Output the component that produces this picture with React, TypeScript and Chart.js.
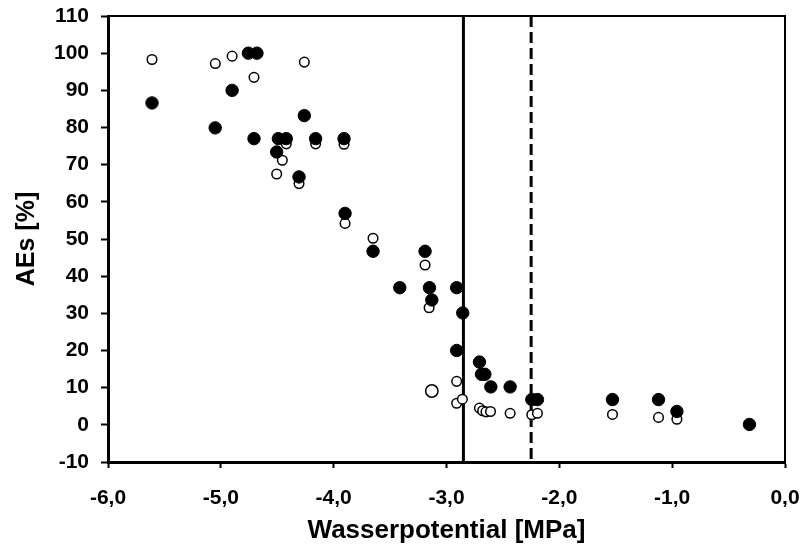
import React, { useEffect, useRef } from "react";
import { Chart, registerables } from "chart.js";

Chart.register(...registerables);

// Filled circles (series 1)
const filledX = [
  -5.61, -5.05, -4.9, -4.756, -4.68, -4.706, -4.49, -4.42, -4.505, -4.307, -4.26,
  -4.16, -3.908, -3.899, -3.651, -3.414, -3.19, -3.151, -3.13, -2.91, -2.856, -2.91,
  -2.708, -2.69, -2.66, -2.607, -2.436, -2.244, -2.194, -1.529, -1.121, -0.958, -0.315,
];
const filledY = [
  86.6, 79.9, 90.0, 100, 100, 77.0, 77.0, 77.0, 73.4, 66.7, 83.2,
  77.0, 77.0, 56.9, 46.7, 36.9, 46.7, 36.9, 33.6, 36.9, 30.1, 20.0,
  16.9, 13.6, 13.6, 10.2, 10.2, 6.8, 6.8, 6.8, 6.8, 3.6, 0.1,
];

// Open circles (series 2)
const openX = [
  -5.61, -5.049, -4.9, -4.706, -4.26, -4.42, -4.455, -4.505, -4.307, -4.16, -3.908,
  -3.899, -3.651, -3.19, -3.154, -3.13, -2.91, -2.91, -2.859, -2.708, -2.68, -2.65,
  -2.61, -2.436, -2.244, -2.194, -1.529, -1.121, -0.958,
];
const openY = [
  98.3, 97.2, 99.2, 93.5, 97.6, 75.6, 71.2, 67.5, 64.9, 75.6, 75.5,
  54.2, 50.2, 43.0, 31.5, 9.1, 11.7, 5.8, 6.9, 4.5, 3.8, 3.5,
  3.6, 3.1, 2.7, 3.1, 2.8, 2.0, 1.5,
];
const openLarge = [false, false, false, false, false, false, false, false, false, false, false,
  false, false, false, false, true, false, false, false, false, false, false,
  false, false, false, false, false, false, false];

// Reference lines
const solidLineX = -2.85;
const dashedLineX = -2.25;

const xMin = -6;
const xMax = 0;
const yMin = -10;
const yMax = 110;

const xTitle = "Wasserpotential [MPa]";
const yTitle = "AEs [%]";

const FONT = "'Liberation Sans', Arial, sans-serif";

export default function App() {
  const ref = useRef<HTMLCanvasElement>(null);

  useEffect(() => {
    if (!ref.current) return;
    const frame = {
      id: "frame",
      afterDraw(chart: any) {
        const { ctx, chartArea } = chart;
        ctx.save();
        ctx.strokeStyle = "#000";
        ctx.lineWidth = 2;
        ctx.beginPath();
        ctx.moveTo(chartArea.left, chartArea.top);
        ctx.lineTo(chartArea.right, chartArea.top);
        ctx.lineTo(chartArea.right, chartArea.bottom);
        ctx.stroke();
        ctx.restore();
      },
    };

    const chart = new Chart(ref.current, {
      type: "scatter",
      data: {
        datasets: [
          {
            label: "filled",
            data: filledX.map((x, i) => ({ x, y: filledY[i] })),
            pointRadius: 6.2,
            pointHoverRadius: 6.2,
            pointBackgroundColor: "#000",
            pointBorderColor: "#000",
            pointBorderWidth: 1,
            showLine: false,
          },
          {
            label: "open",
            data: openX.map((x, i) => ({ x, y: openY[i] })),
            pointRadius: openLarge.map((l) => (l ? 6.2 : 4.8)),
            pointHoverRadius: openLarge.map((l) => (l ? 6.2 : 4.8)),
            pointBackgroundColor: "#fff",
            pointBorderColor: "#000",
            pointBorderWidth: 1.5,
            showLine: false,
          },
          {
            type: "line",
            label: "solid",
            data: [
              { x: solidLineX, y: yMin },
              { x: solidLineX, y: yMax },
            ],
            borderColor: "#000",
            borderWidth: 3,
            pointRadius: 0,
            fill: false,
          },
          {
            type: "line",
            label: "dashed",
            data: [
              { x: dashedLineX, y: yMax },
              { x: dashedLineX, y: yMin },
            ],
            borderColor: "#000",
            borderWidth: 3,
            borderDash: [11, 5],
            pointRadius: 0,
            fill: false,
          },
        ] as any,
      },
      options: {
        animation: false,
        responsive: true,
        maintainAspectRatio: false,
        layout: { padding: { left: 0, top: 16, right: 18, bottom: 0 } },
        plugins: {
          legend: { display: false },
          tooltip: { enabled: false },
        },
        scales: {
          x: {
            type: "linear",
            min: xMin,
            max: xMax,
            ticks: {
              stepSize: 1,
              color: "#000",
              font: { family: FONT, size: 21, weight: "bold" },
              padding: 18,
              maxRotation: 0,
              callback: (v: any) => Number(v).toFixed(1).replace(".", ","),
            },
            grid: {
              drawOnChartArea: false,
              drawTicks: true,
              tickLength: 6,
              tickWidth: 2,
              tickColor: "#000",
            },
            border: { display: true, color: "#000", width: 3 },
            title: {
              display: true,
              text: xTitle,
              color: "#000",
              font: { family: FONT, size: 26, weight: "bold" },
              padding: { top: 0, bottom: 10 },
            },
            afterFit: (s: any) => {
              s.height = 94;
              s.paddingLeft = 0;
              s.paddingRight = 0;
            },
          },
          y: {
            type: "linear",
            min: yMin,
            max: yMax,
            ticks: {
              stepSize: 10,
              color: "#000",
              font: { family: FONT, size: 21, weight: "bold" },
              padding: 12,
            },
            grid: {
              drawOnChartArea: false,
              drawTicks: true,
              tickLength: 7,
              tickWidth: 2,
              tickColor: "#000",
            },
            border: { display: true, color: "#000", width: 3 },
            title: {
              display: true,
              text: yTitle,
              color: "#000",
              font: { family: FONT, size: 25, weight: "bold" },
              padding: { top: 12, bottom: 0 },
            },
            afterFit: (s: any) => {
              s.width = 108;
              s.paddingTop = 0;
              s.paddingBottom = 0;
            },
          },
        },
      } as any,
      plugins: [frame],
    });
    return () => chart.destroy();
  }, []);

  return (
    <div style={{ position: "absolute", left: 0, top: 0, width: 803, height: 556 }}>
      <canvas ref={ref} />
    </div>
  );
}
